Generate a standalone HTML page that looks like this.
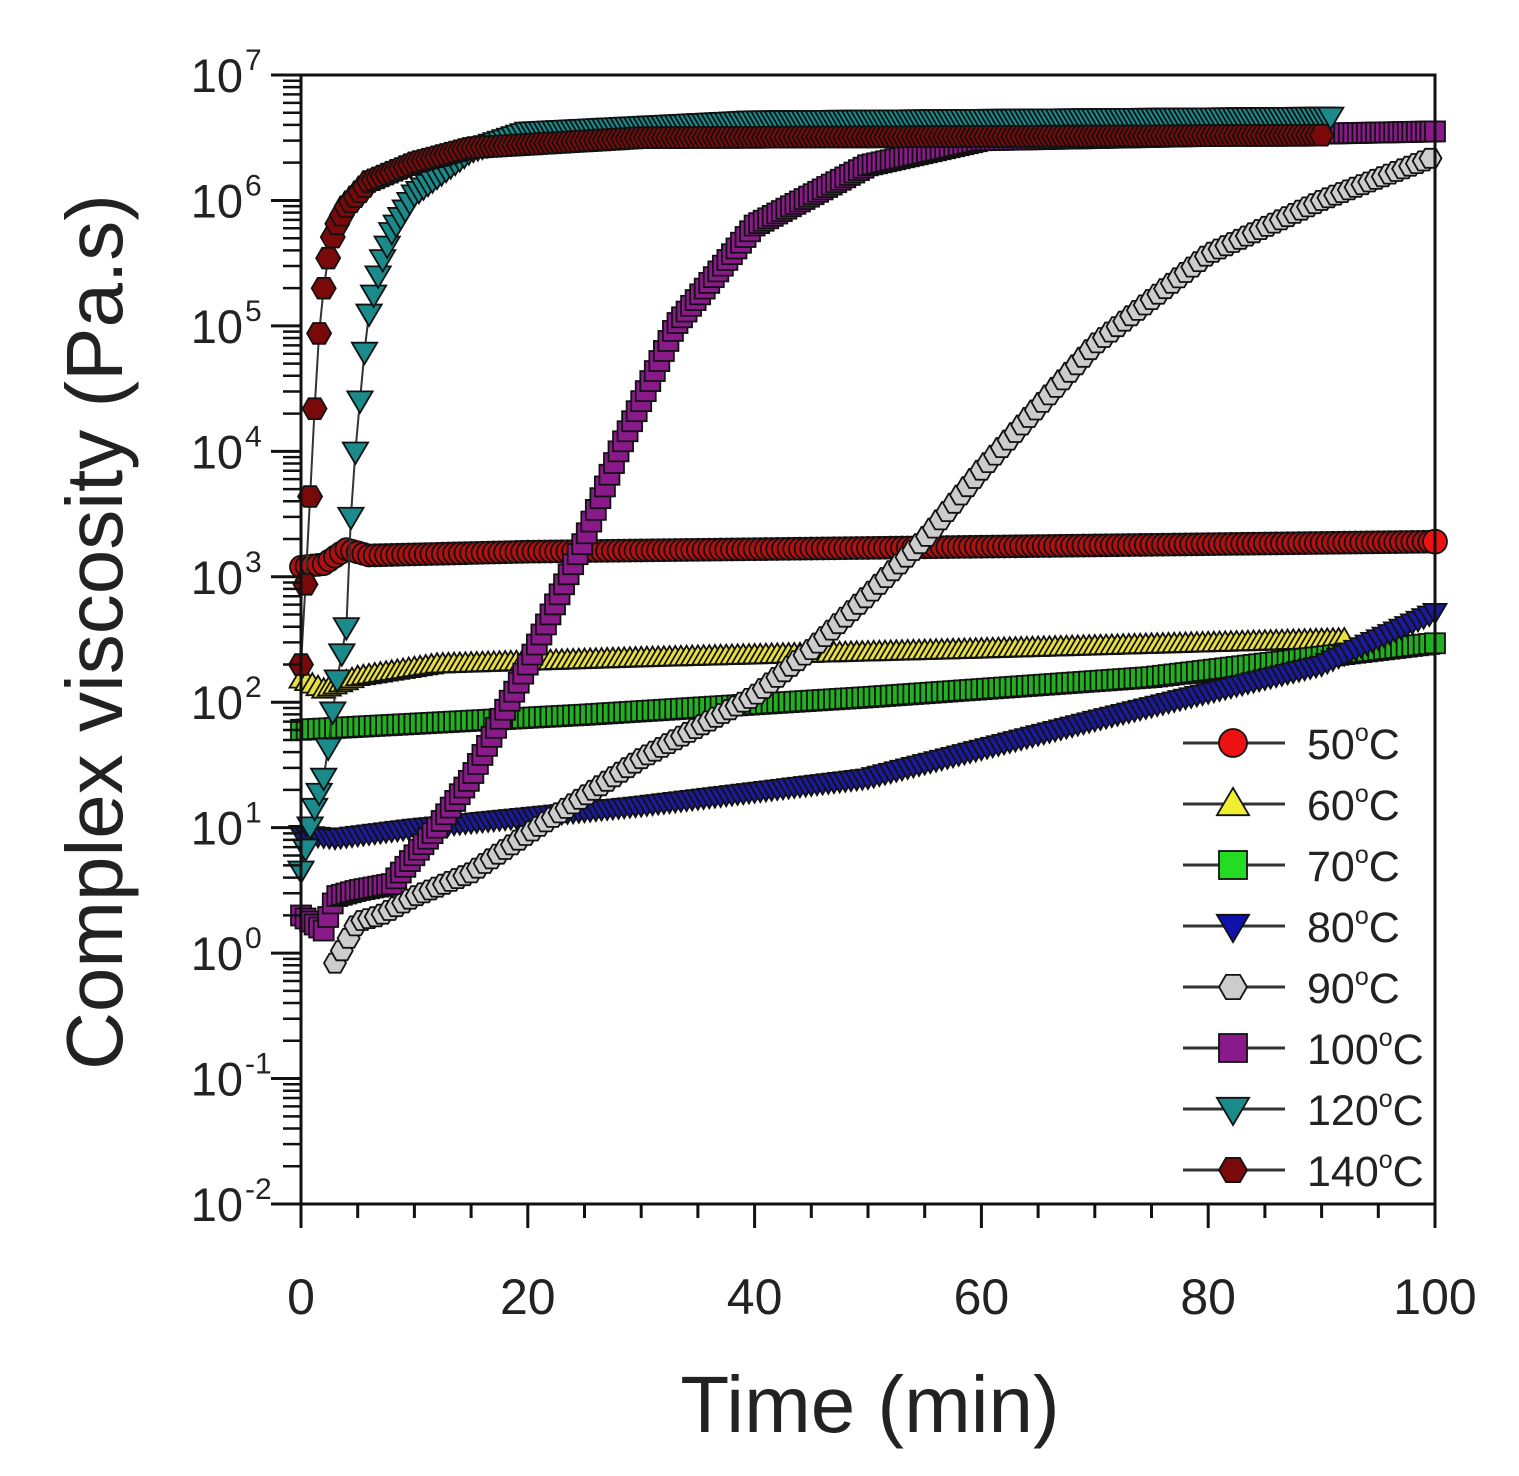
<!DOCTYPE html>
<html><head><meta charset="utf-8"><style>
html,body{margin:0;padding:0;background:#fff}
svg{display:block}
text{font-family:"Liberation Sans",Arial,sans-serif;fill:#222}
</style></head><body>
<svg id="s" width="1519" height="1476" viewBox="0 0 1519 1476" xmlns="http://www.w3.org/2000/svg"></svg>
<script>
const S=document.getElementById('s');
const L=301,R=1435,T=75,B=1204,dec=(B-T)/9;
const X=t=>L+(R-L)*t/100, Y=l=>T+(7-l)*dec;
let h='';
function interp(a,t){for(let i=0;i<a.length-1;i++){if(t<=a[i+1][0]){const[t0,v0]=a[i],[t1,v1]=a[i+1];return v0+(v1-v0)*(t-t0)/(t1-t0);}}return a[a.length-1][1];}
function marker(type,x,y,f,r){
 const st=`fill="${f}" stroke="#111" stroke-width="1.8"`;
 if(type=='c')return `<circle cx="${x}" cy="${y}" r="${r}" ${st}/>`;
 if(type=='s')return `<rect x="${x-r}" y="${y-r}" width="${2*r}" height="${2*r}" ${st}/>`;
 if(type=='tu')return `<polygon points="${x},${y-r*1.15} ${x-r*1.15},${y+r*0.8} ${x+r*1.15},${y+r*0.8}" ${st}/>`;
 if(type=='td')return `<polygon points="${x},${y+r*1.15} ${x-r*1.15},${y-r*0.8} ${x+r*1.15},${y-r*0.8}" ${st}/>`;
 if(type=='h'){let p=[];for(let k=0;k<6;k++){const a=Math.PI/3*k;p.push((x+r*Math.cos(a)).toFixed(1)+','+(y+r*Math.sin(a)).toFixed(1));}return `<polygon points="${p.join(' ')}" ${st}/>`;}
}
const series=[
 {m:'tu',f:'#e8e040',r:10,step:0.5,end:92,d:[[0,2.18],[2,2.1],[5,2.2],[12,2.3],[30,2.35],[60,2.42],[92,2.5]]},
 {m:'s',f:'#22b022',r:10,step:0.5,end:100,d:[[0,1.78],[25,1.9],[50,2.04],[75,2.2],[100,2.47]]},
 {m:'td',f:'#1a1a9a',r:10,step:0.5,end:100,d:[[0,0.95],[3,0.92],[10,1.0],[30,1.18],[50,1.4],[70,1.86],[90,2.3],[100,2.72]]},
 {m:'c',f:'#b01010',r:11,step:0.5,end:100,d:[[0,3.08],[2,3.1],[4,3.22],[6,3.17],[20,3.2],[60,3.24],[100,3.28]]},
 {m:'h',f:'#cccccc',r:11,step:0.6,end:100,d:[[3,-0.08],[5,0.25],[7,0.3],[10,0.45],[15,0.64],[20,0.95],[30,1.55],[40,2.05],[45,2.42],[50,2.85],[55,3.3],[60,3.85],[65,4.35],[70,4.85],[80,5.57],[90,6.0],[100,6.35]]},
 {m:'s',f:'#8a1a8a',r:10,step:0.4,end:100,d:[[0,0.3],[2,0.18],[3,0.45],[5,0.5],[8,0.55],[10,0.78],[12,1.0],[15,1.4],[20,2.3],[25,3.3],[28,4.0],[33,5.0],[40,5.8],[50,6.28],[60,6.48],[100,6.55]]},
 {m:'td',f:'#1a8a8a',r:11,step:0.4,end:91,d:[[0,0.66],[1,1.1],[2,1.4],[2.5,1.7],[3,2.08],[4,2.6],[4.5,3.7],[5,4.2],[5.5,4.72],[6,5.1],[7,5.48],[8,5.75],[10,6.05],[15,6.4],[20,6.55],[40,6.64],[91,6.67]]},
 {m:'h',f:'#7a0a0a',r:12,step:0.4,end:90,d:[[0,2.3],[0.5,3.1],[1,4.0],[1.5,4.85],[2,5.3],[2.5,5.6],[3,5.78],[4,5.95],[6,6.15],[10,6.3],[15,6.42],[30,6.5],[90,6.52]]},
];
for(const s of series){
 const t0=s.d[0][0];let pts=[],mk='';
 for(let t=t0;t<=s.end+1e-6;t+=s.step){const x=X(t),y=Y(interp(s.d,t));pts.push(x.toFixed(1)+','+y.toFixed(1));mk+=marker(s.m,x,y,s.f,s.r);}
 h+=`<polyline points="${pts.join(' ')}" fill="none" stroke="#333" stroke-width="2"/>`+mk;
}
h+=marker('c',X(100),Y(3.28),'#ee1111',12);
h+=`<rect x="${L}" y="${T}" width="${R-L}" height="${B-T}" fill="none" stroke="#111" stroke-width="3"/>`;
for(let e=-2;e<=7;e++){const y=Y(e);h+=`<line x1="${L-30}" y1="${y}" x2="${L}" y2="${y}" stroke="#111" stroke-width="3"/>`;
 h+=`<text x="${L-58}" y="${y+17}" font-size="47" text-anchor="end">10</text><text x="${L-56}" y="${y-5}" font-size="30">${e}</text>`;
 if(e<7)for(let k=2;k<=9;k++){const yy=Y(e+Math.log10(k));h+=`<line x1="${L-18}" y1="${yy}" x2="${L}" y2="${yy}" stroke="#111" stroke-width="2.5"/>`;}}
for(let t=0;t<=100;t+=5){const x=X(t);const maj=t%20==0;h+=`<line x1="${x}" y1="${B}" x2="${x}" y2="${B+(maj?24:14)}" stroke="#111" stroke-width="3"/>`;
 if(maj)h+=`<text x="${x}" y="${B+110}" font-size="50" text-anchor="middle">${t}</text>`;}
h+=`<text x="870" y="1432" font-size="80" text-anchor="middle">Time (min)</text>`;
h+=`<text transform="translate(122,632) rotate(-90)" font-size="80" text-anchor="middle">Complex viscosity (Pa.s)</text>`;
const leg=[['c','#ee1111','50'],['tu','#f0ee30','60'],['s','#22dd22','70'],['td','#1010aa','80'],['h','#cccccc','90'],['s','#8a1a8a','100'],['td','#1a8a8a','120'],['h','#7a0a0a','140']];
leg.forEach((l,i)=>{const y=743+i*61.0;h+=`<line x1="1183" y1="${y}" x2="1285" y2="${y}" stroke="#333" stroke-width="3"/>`+marker(l[0],1233,y,l[1],14);
 h+=`<text x="1307" y="${y+16}" font-size="43">${l[2]}<tspan dy="-18" font-size="25">o</tspan><tspan dy="18">C</tspan></text>`;});
S.innerHTML=h;
</script>
</body></html>
